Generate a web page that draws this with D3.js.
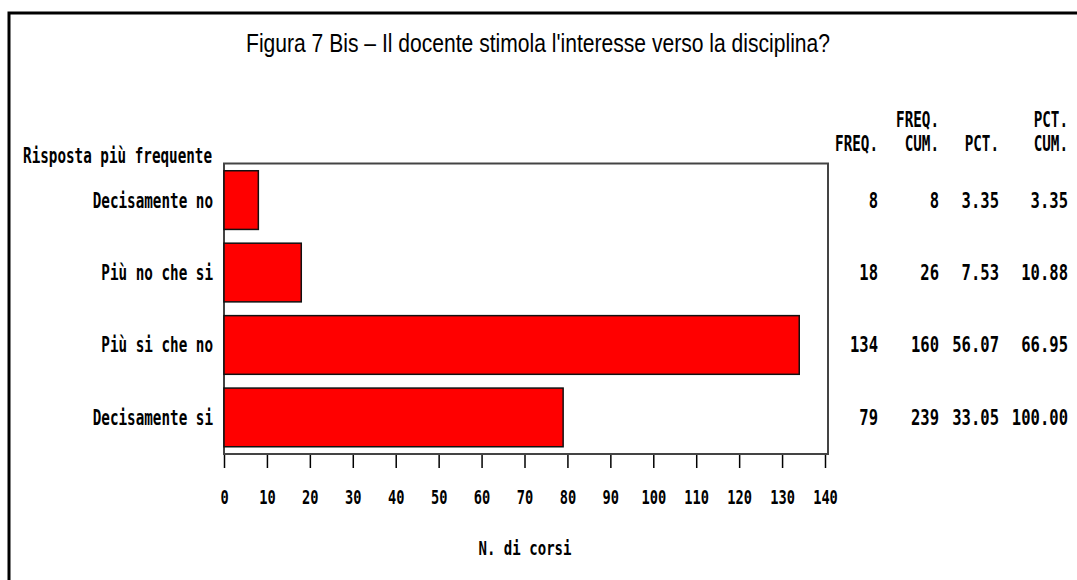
<!DOCTYPE html>
<html>
<head>
<meta charset="utf-8">
<script src="https://cdn.jsdelivr.net/npm/d3@7"></script>
<style>
  body { margin: 0; background: #fff; }
  text { fill: #000; }
  .mono { font-family: "DejaVu Sans Mono", "Liberation Mono", monospace; font-weight: bold; }
</style>
</head>
<body>
<div class="canvas"></div>
<script>
const categories = ["Decisamente no", "Più no che si", "Più si che no", "Decisamente si"];
const freq = [8, 18, 134, 79];
const freqCum = ["8", "26", "160", "239"];
const pct = ["3.35", "7.53", "56.07", "33.05"];
const pctCum = ["3.35", "10.88", "66.95", "100.00"];
const xTicks = d3.range(0, 141, 10);

const dims = { width: 1077, height: 580 };
const frame = { left: 224, right: 828, top: 163.5, bottom: 454 };
const narrow = 0.68; // horizontal squeeze for the condensed SAS-like font

const svg = d3
  .select(".canvas")
  .append("svg")
  .attr("width", dims.width)
  .attr("height", dims.height);

// narrow text: placed in a group that is squeezed horizontally
const label = (parent, px, py, str, size, anchor, sx = narrow) =>
  parent
    .append("g")
    .attr("transform", `translate(${px}, ${py}) scale(${sx}, 1)`)
    .append("text")
    .attr("class", "mono")
    .attr("text-anchor", anchor)
    .attr("font-size", size)
    .text(str);

// outer border (only top and left visible)
svg.append("path")
  .attr("d", `M9,${dims.height} V13 H${dims.width}`)
  .attr("fill", "none")
  .attr("stroke", "#000")
  .attr("stroke-width", 3);

// title
svg.append("text")
  .attr("x", 538)
  .attr("y", 52)
  .attr("text-anchor", "middle")
  .attr("font-family", '"Liberation Sans", sans-serif')
  .attr("font-size", 25)
  .attr("textLength", 584)
  .attr("lengthAdjust", "spacingAndGlyphs")
  .text("Figura 7 Bis \u2013 Il docente stimola l'interesse verso la disciplina?");

const x = d3.scaleLinear().domain([0, 140]).range([frame.left, 825]);
const y = d3
  .scaleBand()
  .domain(categories)
  .range([frame.top, frame.bottom])
  .paddingInner(0.19)
  .paddingOuter(0.1);

// plot frame
svg.append("rect")
  .attr("x", frame.left)
  .attr("y", frame.top)
  .attr("width", frame.right - frame.left)
  .attr("height", frame.bottom - frame.top)
  .attr("fill", "none")
  .attr("stroke", "#444")
  .attr("stroke-width", 2);

// bars
svg.selectAll("rect.bar")
  .data(freq)
  .enter()
  .append("rect")
  .attr("class", "bar")
  .attr("x", x(0))
  .attr("y", (d, i) => y(categories[i]))
  .attr("width", (d) => x(d) - x(0))
  .attr("height", y.bandwidth())
  .attr("fill", "#ff0000")
  .attr("stroke", "#111")
  .attr("stroke-width", 1.5);

// x axis: ticks from d3, labels squeezed like the rest
const xAxis = d3.axisBottom(x).tickValues(xTicks).tickSize(13).tickFormat("");
const gx = svg.append("g")
  .attr("transform", `translate(0, ${frame.bottom + 1})`)
  .call(xAxis);
gx.select(".domain").remove();
gx.selectAll(".tick line").attr("stroke", "#000").attr("stroke-width", 1.5);
gx.selectAll(".tick").each(function (d) {
  label(d3.select(this), 0, 49, d, 19, "middle", 0.72);
});

label(svg, 525, 555, "N. di corsi", 19, "middle", 0.74);

// category labels
label(svg, 212, 163, "Risposta più frequente", 21, "end");

categories.forEach((c) => {
  label(svg, 213, y(c) + y.bandwidth() / 2 + 7.5, c, 21, "end");
});

// statistics table
const columns = [
  { x: 878, head: ["", "FREQ."], values: freq },
  { x: 939, head: ["FREQ.", "CUM."], values: freqCum },
  { x: 999, head: ["", "PCT."], values: pct },
  { x: 1068, head: ["PCT.", "CUM."], values: pctCum }
];

columns.forEach((col) => {
  col.head.forEach((h, j) => {
    if (h) label(svg, col.x, 127 + j * 24, h, 21, "end");
  });
  col.values.forEach((v, i) => {
    label(svg, col.x, y(categories[i]) + y.bandwidth() / 2 + 7.5, v, 21, "end", 0.74);
  });
});
</script>
</body>
</html>
